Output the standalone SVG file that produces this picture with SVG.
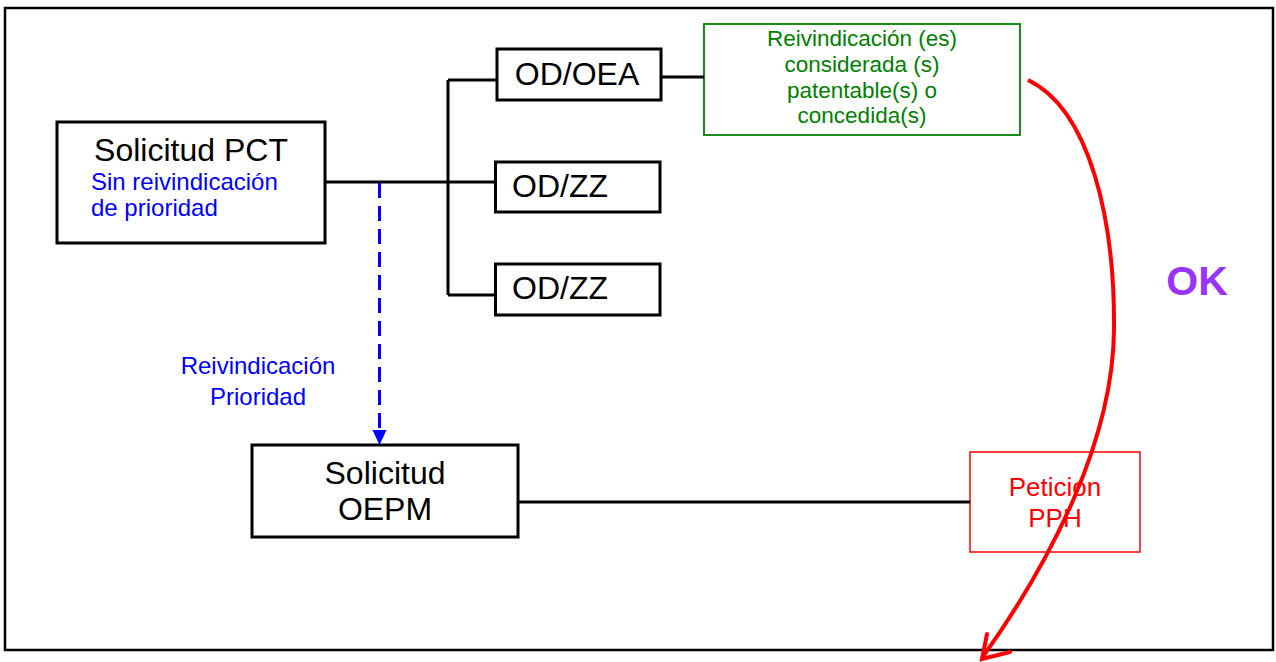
<svg xmlns="http://www.w3.org/2000/svg" width="1276" height="662" viewBox="0 0 1276 662">
<defs>
<style>
.frame{fill:#fff;stroke:#000;stroke-width:2.5}
.box{fill:#fff;stroke:#000;stroke-width:3}
.t{font-family:"Liberation Sans",Arial,sans-serif;text-anchor:middle}
.s{font-family:"Liberation Sans",Arial,sans-serif}
.bk{fill:#000;font-size:32px}
.bl{fill:#0000FF;font-size:24px}
.gr{fill:#008000;font-size:22.5px}
.rd{fill:#FF0000;font-size:26px}
.ln{fill:none;stroke:#000;stroke-width:3}
</style>
</defs>
<rect class="frame" x="5" y="8" width="1268" height="642"/>
<g id="pct">
<rect class="box" x="57" y="122" width="268" height="121"/>
<text class="t bk" x="191" y="161">Solicitud PCT</text>
<text class="s bl" x="91" y="190">Sin reivindicación</text>
<text class="s bl" x="91" y="216">de prioridad</text>
</g>
<g id="od-oea">
<rect class="box" x="497" y="49" width="164" height="51"/>
<text class="t bk" x="577" y="85">OD/OEA</text>
</g>
<g id="od-zz-1">
<rect class="box" x="495.5" y="162" width="164.5" height="50"/>
<text class="s bk" x="512" y="197">OD/ZZ</text>
</g>
<g id="od-zz-2">
<rect class="box" x="495.5" y="264" width="164.5" height="51"/>
<text class="s bk" x="512" y="299">OD/ZZ</text>
</g>
<g id="green">
<rect x="704" y="24" width="316" height="111" fill="#fff" stroke="#008000" stroke-width="1.8"/>
<text class="t gr" x="862" y="46">Reivindicación (es)</text>
<text class="t gr" x="862" y="72">considerada (s)</text>
<text class="t gr" x="862" y="98">patentable(s) o</text>
<text class="t gr" x="862" y="123">concedida(s)</text>
</g>
<g id="label-prioridad">
<text class="t bl" x="258" y="374">Reivindicación</text>
<text class="t bl" x="258" y="405">Prioridad</text>
</g>
<g id="oepm">
<rect class="box" x="252" y="445" width="266" height="92"/>
<text class="t bk" x="385" y="484">Solicitud</text>
<text class="t bk" x="385" y="520">OEPM</text>
</g>
<g id="pph">
<rect x="970" y="452" width="170" height="100" fill="#fff" stroke="#FF0000" stroke-width="1.5"/>
<text class="t rd" x="1055" y="496">Peticion</text>
<text class="t rd" x="1055" y="527">PPH</text>
</g>
<g id="ok">
<text class="t" x="1197" y="295" style="font-size:41px;font-weight:bold;fill:#9933FF">OK</text>
</g>
<g id="connectors">
<path class="ln" d="M325,182 H495"/>
<path class="ln" d="M448,80 V295 M448,80 H497 M448,295 H495"/>
<path class="ln" d="M661,77 H704"/>
<path class="ln" d="M518,502 H970"/>
<path d="M379.5,183 V430" fill="none" stroke="#0000FF" stroke-width="3" stroke-dasharray="15,8"/>
<path d="M372.5,430 H386.5 L379.5,445 Z" fill="#0000FF"/>
<path d="M1028,80 C1090,110 1115,220 1114,330 C1113,440 1052,560 982,658" fill="none" stroke="#FF0000" stroke-width="4"/>
<path d="M987,634 L982,659 L1010,652" fill="none" stroke="#FF0000" stroke-width="4" stroke-linecap="round"/>
</g>
</svg>
